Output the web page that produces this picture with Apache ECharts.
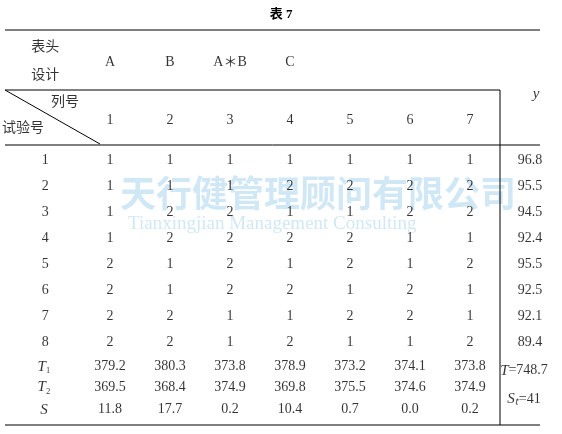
<!DOCTYPE html>
<html><head><meta charset="utf-8">
<script src="https://cdn.jsdelivr.net/npm/echarts@6/dist/echarts.min.js"></script>
<style>html,body{margin:0;background:#fff}#c{width:562px;height:434px}</style>
</head><body><div id="c"></div>
<script>
const factorHeads = ['A','B','A＊B','C','','',''];
const colNumbers = ['1','2','3','4','5','6','7'];
const runLabels = ['1','2','3','4','5','6','7','8'];
const levels = [
 [1,1,1,1,1,1,1],
 [1,1,1,2,2,2,2],
 [1,2,2,1,1,2,2],
 [1,2,2,2,2,1,1],
 [2,1,2,1,2,1,2],
 [2,1,2,2,1,2,1],
 [2,2,1,1,2,2,1],
 [2,2,1,2,1,1,2]
];
const yValues = ['96.8','95.5','94.5','92.4','95.5','92.5','92.1','89.4'];
const T1 = ['379.2','380.3','373.8','378.9','373.2','374.1','373.8'];
const T2 = ['369.5','368.4','374.9','369.8','375.5','374.6','374.9'];
const S = ['11.8','17.7','0.2','10.4','0.7','0.0','0.2'];

const font = '"Liberation Serif","Noto Sans CJK SC",serif';
const cells = [];
function add(x,y,t){cells.push({value:[x,y],label:{formatter:t}});}
factorHeads.forEach((t,i)=>{ if(t) add(i+1,-2.77,t); });
colNumbers.forEach((t,i)=>add(i+1,-0.54,t));
add(-0.08,-3.35,'表头'); add(-0.08,-2.27,'设计');
add(0.25,-1.2,'列号'); add(-0.45,-0.2,'试验号');
add(8.1,-1.55,'{i|y}');
runLabels.forEach((t,r)=>{
  add(-0.08,r+1,t);
  levels[r].forEach((v,c)=>add(c+1,r+1,String(v)));
  add(8,r+1,yValues[r]);
});
add(-0.1,8.95,'{i|T}₁'); add(-0.1,9.75,'{i|T}₂'); add(-0.1,10.6,'{i|S}');
T1.forEach((t,i)=>add(i+1,8.95,t));
T2.forEach((t,i)=>add(i+1,9.75,t));
S.forEach((t,i)=>add(i+1,10.6,t));
add(7.9,9.1,'{i|T}=748.7'); add(7.9,10.2,'{i|S}{i|ₜ}=41');

const ln = (x1,y1,x2,y2,w)=>({type:'line',shape:{x1,y1,x2,y2},style:{stroke:'#000',lineWidth:w||1}});
const chart = echarts.init(document.getElementById('c'));
chart.setOption({
  animation:false,
  title:{text:'表 7',left:'center',top:3,textStyle:{fontSize:13,fontWeight:'bold',fontFamily:font,color:'#000'}},
  grid:{left:0,right:0,top:0,bottom:0},
  xAxis:{type:'value',min:-50/60,max:512/60,show:false},
  yAxis:{type:'value',inverse:true,min:-134/26,max:300/26,show:false},
  graphic:[
    {type:'text',left:120,top:175,z:-1,style:{text:'天行健管理顾问有限公司',fill:'rgba(120,190,230,0.35)',font:'bold 36px "Noto Sans CJK SC"'}},
    {type:'text',left:128,top:215,z:-1,style:{text:'Tianxingjian Management Consulting',fill:'rgba(120,190,230,0.35)',font:'19px "Liberation Serif"'}},
    ln(5,30,540,30,1.2), ln(5,90,500,90), ln(5,90,100,144), ln(5,145,540,145),
    ln(500,90,500,425), ln(5,425,540,425,1.2)
  ],
  series:[{
    type:'scatter',symbolSize:0,data:cells,
    label:{show:true,position:'inside',color:'#000',fontSize:14,fontFamily:font,
      rich:{i:{fontStyle:'italic',fontSize:15,fontFamily:font}}}
  }]
});
</script></body></html>
